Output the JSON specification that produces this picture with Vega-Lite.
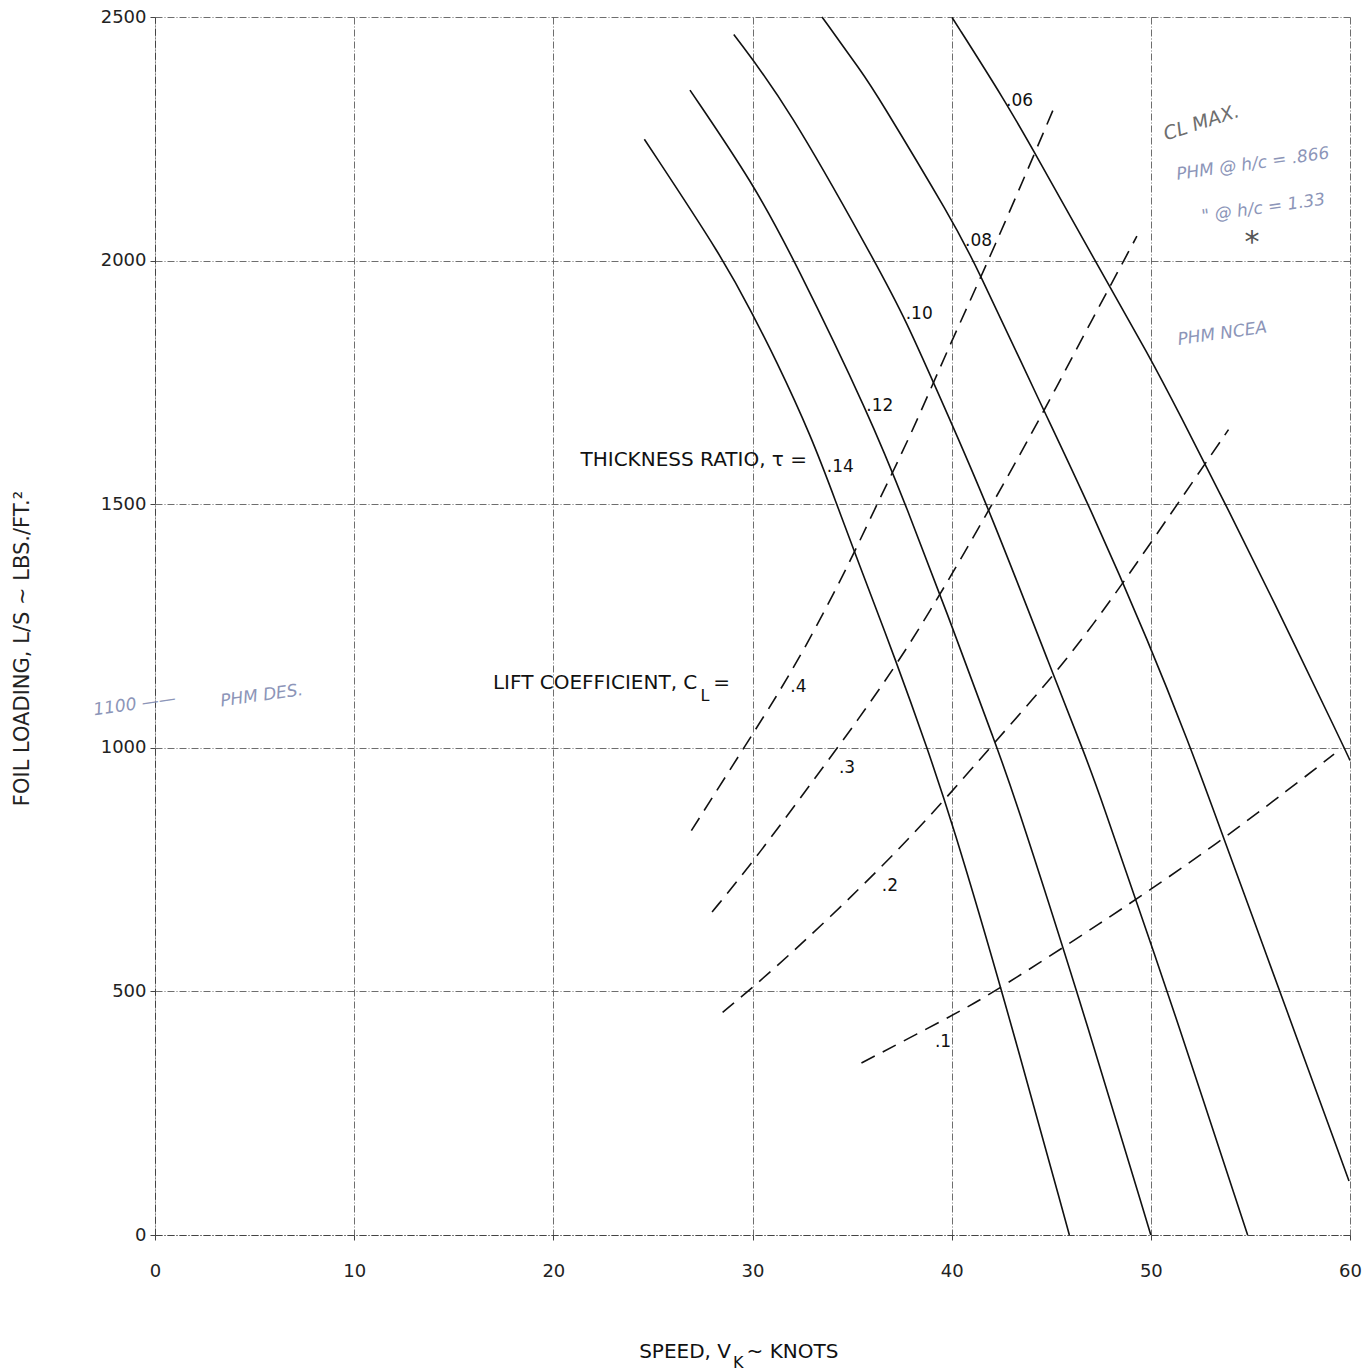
{
  "$schema": "https://vega.github.io/schema/vega-lite/v6.json",
  "width": 1195,
  "height": 1218,
  "autosize": {"type": "none"},
  "padding": {"left": 155, "top": 17, "right": 13, "bottom": 137},
  "background": "white",
  "config": {
    "view": {"stroke": null},
    "font": "DejaVu Sans",
    "axis": {
      "labelFont": "DejaVu Sans",
      "labelFontSize": 18,
      "labelColor": "#222222",
      "labelFlush": false,
      "titleFont": "DejaVu Sans",
      "titleFontWeight": "normal",
      "titleColor": "#222222",
      "domainColor": "#444444",
      "domainDash": [7, 2, 1, 2],
      "tickColor": "#444444",
      "tickSize": 5,
      "gridColor": "#555555",
      "gridDash": [7, 2, 1, 2],
      "gridOpacity": 0.85,
      "gridWidth": 1
    }
  },
  "datasets": {
    "thickness": [
      {"tau": ".06", "speed": 40.02, "load": 2499},
      {"tau": ".06", "speed": 42.73, "load": 2325},
      {"tau": ".06", "speed": 44.26, "load": 2215},
      {"tau": ".06", "speed": 47.14, "load": 2004},
      {"tau": ".06", "speed": 50.02, "load": 1797},
      {"tau": ".06", "speed": 51.38, "load": 1690},
      {"tau": ".06", "speed": 53.76, "load": 1499},
      {"tau": ".06", "speed": 55.97, "load": 1318},
      {"tau": ".06", "speed": 59.7, "load": 1001},
      {"tau": ".06", "speed": 60.0, "load": 974},
      {"tau": ".08", "speed": 33.49, "load": 2500},
      {"tau": ".08", "speed": 35.52, "load": 2385},
      {"tau": ".08", "speed": 36.2, "load": 2344},
      {"tau": ".08", "speed": 40.1, "load": 2078},
      {"tau": ".08", "speed": 41.12, "load": 1999},
      {"tau": ".08", "speed": 44.51, "load": 1702},
      {"tau": ".08", "speed": 46.9, "load": 1498},
      {"tau": ".08", "speed": 49.96, "load": 1211},
      {"tau": ".08", "speed": 52.0, "load": 999},
      {"tau": ".08", "speed": 52.86, "load": 904},
      {"tau": ".08", "speed": 55.25, "load": 637},
      {"tau": ".08", "speed": 56.53, "load": 494},
      {"tau": ".08", "speed": 59.95, "load": 111},
      {"tau": ".10", "speed": 29.06, "load": 2464},
      {"tau": ".10", "speed": 31.8, "load": 2316},
      {"tau": ".10", "speed": 36.09, "load": 2002},
      {"tau": ".10", "speed": 37.62, "load": 1886},
      {"tau": ".10", "speed": 39.83, "load": 1681},
      {"tau": ".10", "speed": 41.88, "load": 1490},
      {"tau": ".10", "speed": 45.12, "load": 1148},
      {"tau": ".10", "speed": 46.65, "load": 990},
      {"tau": ".10", "speed": 47.42, "load": 906},
      {"tau": ".10", "speed": 49.9, "load": 609},
      {"tau": ".10", "speed": 50.92, "load": 490},
      {"tau": ".10", "speed": 54.86, "load": 0},
      {"tau": ".12", "speed": 26.86, "load": 2350},
      {"tau": ".12", "speed": 30.06, "load": 2157},
      {"tau": ".12", "speed": 32.09, "load": 2002},
      {"tau": ".12", "speed": 35.9, "load": 1680},
      {"tau": ".12", "speed": 37.69, "load": 1499},
      {"tau": ".12", "speed": 40.08, "load": 1243},
      {"tau": ".12", "speed": 42.3, "load": 997},
      {"tau": ".12", "speed": 42.98, "load": 922},
      {"tau": ".12", "speed": 46.32, "load": 499},
      {"tau": ".12", "speed": 50.0, "load": 0},
      {"tau": ".14", "speed": 24.57, "load": 2249},
      {"tau": ".14", "speed": 28.58, "load": 2001},
      {"tau": ".14", "speed": 30.0, "load": 1890},
      {"tau": ".14", "speed": 31.11, "load": 1802},
      {"tau": ".14", "speed": 32.96, "load": 1639},
      {"tau": ".14", "speed": 34.24, "load": 1499},
      {"tau": ".14", "speed": 35.2, "load": 1393},
      {"tau": ".14", "speed": 37.25, "load": 1174},
      {"tau": ".14", "speed": 38.79, "load": 997},
      {"tau": ".14", "speed": 39.98, "load": 853},
      {"tau": ".14", "speed": 42.56, "load": 498},
      {"tau": ".14", "speed": 45.91, "load": 0}
    ],
    "lift": [
      {"cl": ".4", "speed": 26.93, "load": 830},
      {"cl": ".4", "speed": 29.91, "load": 1022},
      {"cl": ".4", "speed": 31.4, "load": 1118},
      {"cl": ".4", "speed": 33.05, "load": 1235},
      {"cl": ".4", "speed": 35.03, "load": 1393},
      {"cl": ".4", "speed": 36.19, "load": 1495},
      {"cl": ".4", "speed": 38.0, "load": 1646},
      {"cl": ".4", "speed": 39.65, "load": 1804},
      {"cl": ".4", "speed": 42.12, "load": 2024},
      {"cl": ".4", "speed": 45.08, "load": 2308},
      {"cl": ".3", "speed": 27.97, "load": 663},
      {"cl": ".3", "speed": 30.04, "load": 766},
      {"cl": ".3", "speed": 33.94, "load": 982},
      {"cl": ".3", "speed": 35.59, "load": 1074},
      {"cl": ".3", "speed": 37.75, "load": 1202},
      {"cl": ".3", "speed": 40.06, "load": 1359},
      {"cl": ".3", "speed": 42.04, "load": 1500},
      {"cl": ".3", "speed": 44.52, "load": 1682},
      {"cl": ".3", "speed": 46.67, "load": 1850},
      {"cl": ".3", "speed": 49.3, "load": 2050},
      {"cl": ".2", "speed": 28.5, "load": 457},
      {"cl": ".2", "speed": 29.84, "load": 502},
      {"cl": ".2", "speed": 32.33, "load": 592},
      {"cl": ".2", "speed": 35.49, "load": 715},
      {"cl": ".2", "speed": 37.82, "load": 812},
      {"cl": ".2", "speed": 39.97, "load": 908},
      {"cl": ".2", "speed": 42.13, "load": 1010},
      {"cl": ".2", "speed": 45.28, "load": 1155},
      {"cl": ".2", "speed": 47.6, "load": 1280},
      {"cl": ".2", "speed": 49.92, "load": 1416},
      {"cl": ".2", "speed": 52.24, "load": 1554},
      {"cl": ".2", "speed": 53.9, "load": 1653},
      {"cl": ".1", "speed": 35.47, "load": 353},
      {"cl": ".1", "speed": 39.97, "load": 449},
      {"cl": ".1", "speed": 41.89, "load": 493},
      {"cl": ".1", "speed": 44.72, "load": 567},
      {"cl": ".1", "speed": 47.39, "load": 638},
      {"cl": ".1", "speed": 49.88, "load": 706},
      {"cl": ".1", "speed": 53.21, "load": 800},
      {"cl": ".1", "speed": 57.04, "load": 918},
      {"cl": ".1", "speed": 59.2, "load": 987}
    ],
    "curveLabels": [
      {"label": ".06", "speed": 42.73, "load": 2328},
      {"label": ".08", "speed": 40.67, "load": 2040},
      {"label": ".10", "speed": 37.69, "load": 1890},
      {"label": ".12", "speed": 35.71, "load": 1701},
      {"label": ".14", "speed": 33.73, "load": 1577},
      {"label": ".4", "speed": 31.9, "load": 1125},
      {"label": ".3", "speed": 34.34, "load": 959},
      {"label": ".2", "speed": 36.49, "load": 716},
      {"label": ".1", "speed": 39.16, "load": 396}
    ],
    "notes": [
      {"note": "PHM @ h/c = .866", "speed": 51.29, "load": 2176},
      {"note": "\" @ h/c = 1.33", "speed": 52.56, "load": 2090},
      {"note": "PHM NCEA", "speed": 51.35, "load": 1837},
      {"note": "1100 ——", "speed": -3.08, "load": 1077},
      {"note": "PHM DES.", "speed": 3.29, "load": 1095}
    ]
  },
  "encoding": {
    "x": {
      "field": "speed",
      "type": "quantitative",
      "scale": {"domain": [0, 60], "nice": false, "zero": false},
      "axis": {
        "title": null,
        "values": [0, 10, 20, 30, 40, 50, 60],
        "labelPadding": 22
      }
    },
    "y": {
      "field": "load",
      "type": "quantitative",
      "scale": {"domain": [0, 2500], "nice": false},
      "axis": {
        "title": "FOIL LOADING, L/S ~ LBS./FT.²",
        "values": [0, 500, 1000, 1500, 2000, 2500],
        "format": "d",
        "labelPadding": 4,
        "titleFontSize": 21,
        "titleX": -133,
        "titleY": 631,
        "titleAngle": -90,
        "titleAlign": "center",
        "titleBaseline": "middle"
      }
    }
  },
  "layer": [
    {
      "data": {"name": "thickness"},
      "mark": {"type": "line", "color": "#111111", "strokeWidth": 1.6, "interpolate": "basis"},
      "encoding": {"detail": {"field": "tau", "type": "nominal"}}
    },
    {
      "data": {"name": "lift"},
      "mark": {"type": "line", "color": "#111111", "strokeWidth": 1.6, "strokeDash": [15, 9], "interpolate": "basis"},
      "encoding": {"detail": {"field": "cl", "type": "nominal"}}
    },
    {
      "data": {"name": "curveLabels"},
      "mark": {"type": "text", "align": "left", "baseline": "middle", "fontSize": 17, "color": "#111111"},
      "encoding": {"text": {"field": "label", "type": "nominal"}}
    },
    {
      "data": {"values": [{"t": "THICKNESS RATIO, τ =", "speed": 27.05, "load": 1590}]},
      "mark": {"type": "text", "align": "center", "baseline": "middle", "fontSize": 20, "color": "#111111"},
      "encoding": {"text": {"field": "t", "type": "nominal"}}
    },
    {
      "data": {"values": [{"t": "LIFT COEFFICIENT, C", "speed": 27.23, "load": 1134}, {"t": "SPEED, V", "speed": 28.92, "load": -240}]},
      "mark": {"type": "text", "align": "right", "baseline": "middle", "fontSize": 20, "color": "#111111"},
      "encoding": {"text": {"field": "t", "type": "nominal"}}
    },
    {
      "data": {"values": [{"t": "=", "speed": 28.03, "load": 1134}, {"t": "~ KNOTS", "speed": 29.7, "load": -240}]},
      "mark": {"type": "text", "align": "left", "baseline": "middle", "fontSize": 20, "color": "#111111"},
      "encoding": {"text": {"field": "t", "type": "nominal"}}
    },
    {
      "data": {"values": [{"t": "L", "speed": 27.39, "load": 1106}, {"t": "K", "speed": 29.02, "load": -262}]},
      "mark": {"type": "text", "align": "left", "baseline": "middle", "fontSize": 16, "color": "#111111"},
      "encoding": {"text": {"field": "t", "type": "nominal"}}
    },
    {
      "data": {"values": [{"t": "CL MAX.", "speed": 50.67, "load": 2258}]},
      "mark": {"type": "text", "align": "left", "baseline": "middle", "fontSize": 19, "fontStyle": "italic", "angle": 342, "color": "#6e6e6e"},
      "encoding": {"text": {"field": "t", "type": "nominal"}}
    },
    {
      "data": {"name": "notes"},
      "mark": {"type": "text", "align": "left", "baseline": "middle", "fontSize": 17, "fontStyle": "italic", "angle": 352, "color": "#8c95b8"},
      "encoding": {"text": {"field": "note", "type": "nominal"}}
    },
    {
      "data": {"values": [{"t": "*", "speed": 55.08, "load": 2037}]},
      "mark": {"type": "text", "align": "center", "baseline": "middle", "fontSize": 30, "color": "#555555"},
      "encoding": {"text": {"field": "t", "type": "nominal"}}
    }
  ]
}
